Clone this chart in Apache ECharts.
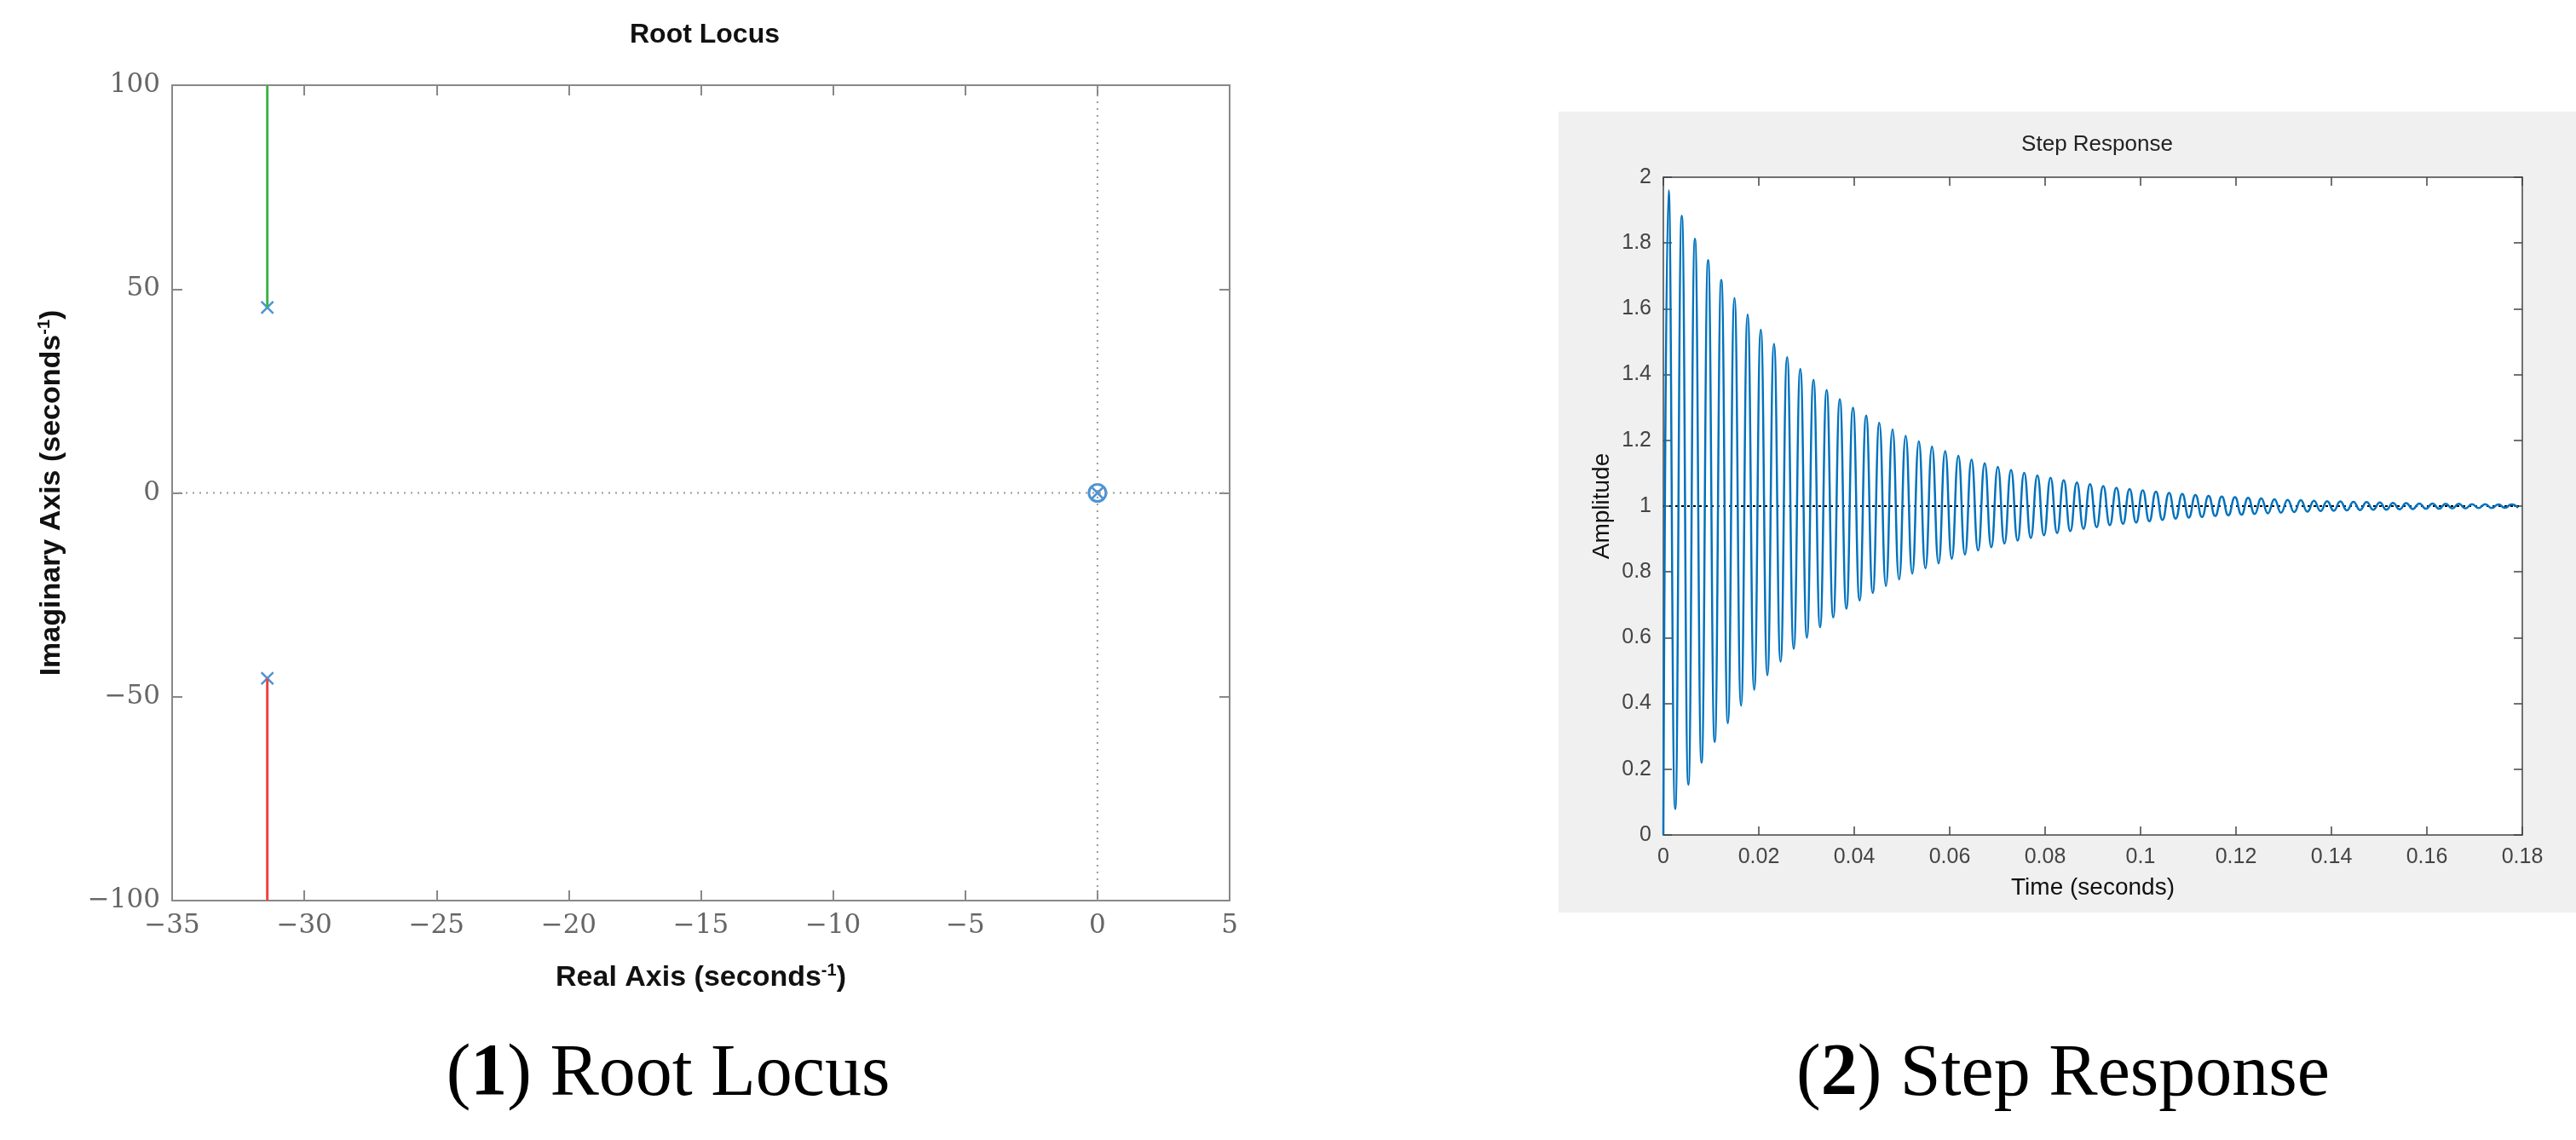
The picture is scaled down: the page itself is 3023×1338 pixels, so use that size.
<!DOCTYPE html>
<html><head><meta charset="utf-8">
<script src="https://cdn.jsdelivr.net/npm/echarts@6/dist/echarts.min.js"></script>
<style>html,body{margin:0;background:#fff}#c{width:3023px;height:1338px}</style></head>
<body><div id="c"></div>
<script>
// Root locus data
const polePts = [[-31.4, 45.5], [-31.4, -45.5]];
const zeroPts = [[0, 0]];
const branchUp = [[-31.4, 45.5], [-31.4, 100]];
const branchDown = [[-31.4, -45.5], [-31.4, -100]];
const rlXTicks = [-35, -30, -25, -20, -15, -10, -5, 0, 5];
const rlYTicks = [-100, -50, 0, 50, 100];
// Step response data
const firstPeakTime = 0.0011;
const period = 0.00276;
const peakAmps = [1.960,1.883,1.813,1.748,1.688,1.633,1.582,1.536,1.493,1.453,1.417,1.384,1.353,1.325,1.299,1.275,1.253,1.233,1.214,1.197,1.181,1.167,1.153,1.141,1.130,1.119,1.110,1.101,1.093,1.086,1.079,1.072,1.067,1.061,1.056,1.052,1.048,1.044,1.040,1.037,1.034,1.031,1.029,1.027,1.025,1.023,1.021,1.019,1.018,1.016,1.015,1.014,1.013,1.012,1.011,1.010,1.009,1.008,1.008,1.007,1.007,1.006,1.006,1.005,1.005];
const troughAmps = [0.079,0.153,0.220,0.283,0.340,0.393,0.442,0.486,0.527,0.566,0.600,0.632,0.661,0.688,0.713,0.736,0.757,0.777,0.795,0.811,0.826,0.840,0.853,0.865,0.875,0.886,0.895,0.903,0.911,0.918,0.924,0.931,0.936,0.942,0.946,0.950,0.954,0.958,0.962,0.965,0.967,0.970,0.972,0.974,0.976,0.978,0.980,0.982,0.983,0.985,0.986,0.987,0.988,0.989,0.989,0.990,0.991,0.992,0.992,0.993,0.993,0.994,0.994,0.995,0.995];

const stepPts = [[0, 0]];
for (let i = 0; i < peakAmps.length; i++) {
  const tp = firstPeakTime + i * period;
  if (tp > 0.18) break;
  stepPts.push([tp, peakAmps[i]]);
  const tt = tp + period / 2;
  if (tt > 0.18) break;
  stepPts.push([tt, troughAmps[i]]);
}

const serif = 'DejaVu Serif';
const fmtMinus = v => (v < 0 ? '\u2212' + (-v) : '' + v);
const rlLine = {show: true, onZero: false, lineStyle: {color: '#888', width: 2}};
const rlTick = {show: true, inside: true, length: 12, lineStyle: {color: '#888', width: 2}};
const srLine = {show: true, onZero: false, lineStyle: {color: '#444', width: 1.5}};
const srTick = {show: true, inside: true, length: 10, lineStyle: {color: '#444', width: 1.5}};
const box = (gi, pos, line, tick, extra) => Object.assign({
  gridIndex: gi, position: pos, type: 'value',
  axisLine: line, axisTick: tick, axisLabel: {show: false}, splitLine: {show: false}
}, extra);
const capRich = {b: {fontWeight: 'bold', fontSize: 86, fontFamily: 'Liberation Serif', fill: '#000'}};
const opt = {
  animation: false,
  graphic: [
    {type: 'rect', shape: {x: 1829, y: 131, width: 1194, height: 940}, style: {fill: '#f0f0f0'}, z: -10},
    {type: 'text', style: {x: 784, y: 1262, text: '({b|1}) Root Locus', font: '86px "Liberation Serif"', fill: '#000', align: 'center', verticalAlign: 'middle', rich: capRich}},
    {type: 'text', style: {x: 2421, y: 1262, text: '({b|2}) Step Response', font: '86px "Liberation Serif"', fill: '#000', align: 'center', verticalAlign: 'middle', rich: capRich}}
  ],
  title: [
    {text: 'Root Locus', left: 822, top: 20, textAlign: 'center', textStyle: {fontSize: 32, fontWeight: 'bold', fontFamily: 'Liberation Sans', color: '#111'}},
    {text: 'Step Response', left: 2456, top: 152, textAlign: 'center', textStyle: {fontSize: 26, fontWeight: 'normal', fontFamily: 'Liberation Sans', color: '#222'}}
  ],
  grid: [
    {left: 202, top: 100, width: 1241, height: 957, show: true, backgroundColor: '#fff', borderWidth: 0},
    {left: 1952, top: 208, width: 1008, height: 772, show: true, backgroundColor: '#fff', borderWidth: 0}
  ],
  xAxis: [
    {gridIndex: 0, type: 'value', min: -35, max: 5, interval: 5, position: 'bottom',
     name: '{n|Real Axis (seconds}{s|-1}{n|)}', nameLocation: 'middle', nameGap: 72,
     nameTextStyle: {rich: {n: {fontSize: 34, fontWeight: 'bold', fontFamily: 'Liberation Sans', color: '#111'}, s: {fontSize: 20, fontWeight: 'bold', verticalAlign: 'top', padding: [0,0,18,0], color: '#111'}}},
     axisLine: rlLine, axisTick: rlTick,
     axisLabel: {fontFamily: serif, fontSize: 31, color: '#666', margin: 14, formatter: fmtMinus},
     splitLine: {show: false}},
    box(0, 'top', rlLine, rlTick, {min: -35, max: 5, interval: 5}),
    {gridIndex: 1, type: 'value', min: 0, max: 0.18, interval: 0.02, position: 'bottom',
     name: 'Time (seconds)', nameLocation: 'middle', nameGap: 48,
     nameTextStyle: {fontSize: 28, fontFamily: 'Liberation Sans', color: '#111'},
     axisLine: srLine, axisTick: srTick,
     axisLabel: {fontFamily: 'Liberation Sans', fontSize: 25, color: '#444', margin: 14},
     splitLine: {show: false}},
    box(1, 'top', srLine, srTick, {min: 0, max: 0.18, interval: 0.02})
  ],
  yAxis: [
    {gridIndex: 0, type: 'value', min: -100, max: 100, interval: 50, position: 'left',
     name: '{n|Imaginary Axis (seconds}{s|-1}{n|)}', nameLocation: 'middle', nameGap: 122,
     nameTextStyle: {rich: {n: {fontSize: 34, fontWeight: 'bold', fontFamily: 'Liberation Sans', color: '#111'}, s: {fontSize: 20, fontWeight: 'bold', verticalAlign: 'top', padding: [0,0,18,0], color: '#111'}}},
     axisLine: rlLine, axisTick: rlTick,
     axisLabel: {fontFamily: serif, fontSize: 31, color: '#666', margin: 14, formatter: fmtMinus},
     splitLine: {show: false}},
    box(0, 'right', rlLine, rlTick, {min: -100, max: 100, interval: 50}),
    {gridIndex: 1, type: 'value', min: 0, max: 2, interval: 0.2, position: 'left',
     name: 'Amplitude', nameLocation: 'middle', nameGap: 58,
     nameTextStyle: {fontSize: 28, fontFamily: 'Liberation Sans', color: '#111'},
     axisLine: srLine, axisTick: srTick,
     axisLabel: {fontFamily: 'Liberation Sans', fontSize: 25, color: '#444', margin: 14},
     splitLine: {show: false}},
    box(1, 'right', srLine, srTick, {min: 0, max: 2, interval: 0.2})
  ],
  series: [
    {type: 'line', xAxisIndex: 0, yAxisIndex: 0, data: [[0, -100], [0, 100]], symbol: 'none', lineStyle: {color: '#999', width: 2, type: [2, 6]}},
    {type: 'line', xAxisIndex: 0, yAxisIndex: 0, data: [[-35, 0], [5, 0]], symbol: 'none', lineStyle: {color: '#999', width: 2, type: [2, 6]}},
    {type: 'line', xAxisIndex: 0, yAxisIndex: 0, data: branchUp, symbol: 'none', lineStyle: {color: '#3cb44b', width: 3}},
    {type: 'line', xAxisIndex: 0, yAxisIndex: 0, data: branchDown, symbol: 'none', lineStyle: {color: '#f04040', width: 3}},
    {type: 'scatter', xAxisIndex: 0, yAxisIndex: 0, data: polePts, symbol: 'path://M0,0L10,10M10,0L0,10', symbolSize: 14,
     itemStyle: {color: 'none', borderColor: '#1f78c8', borderWidth: 2.5}},
    {type: 'scatter', xAxisIndex: 0, yAxisIndex: 0, data: zeroPts, symbol: 'circle', symbolSize: 20,
     itemStyle: {color: 'none', borderColor: '#1f78c8', borderWidth: 3}},
    {type: 'scatter', xAxisIndex: 0, yAxisIndex: 0, data: zeroPts, symbol: 'path://M0,0L10,10M10,0L0,10', symbolSize: 12,
     itemStyle: {color: 'none', borderColor: '#1f78c8', borderWidth: 2.5}},
    {type: 'line', xAxisIndex: 2, yAxisIndex: 2, data: [[0, 1], [0.18, 1]], symbol: 'none', lineStyle: {color: '#000', width: 2, type: [3, 4]}},
    {type: 'line', xAxisIndex: 2, yAxisIndex: 2, data: stepPts, symbol: 'none', smooth: 0.5, lineStyle: {color: '#0072BD', width: 2.5}}
  ]
};
echarts.init(document.getElementById('c')).setOption(opt);
</script></body></html>
